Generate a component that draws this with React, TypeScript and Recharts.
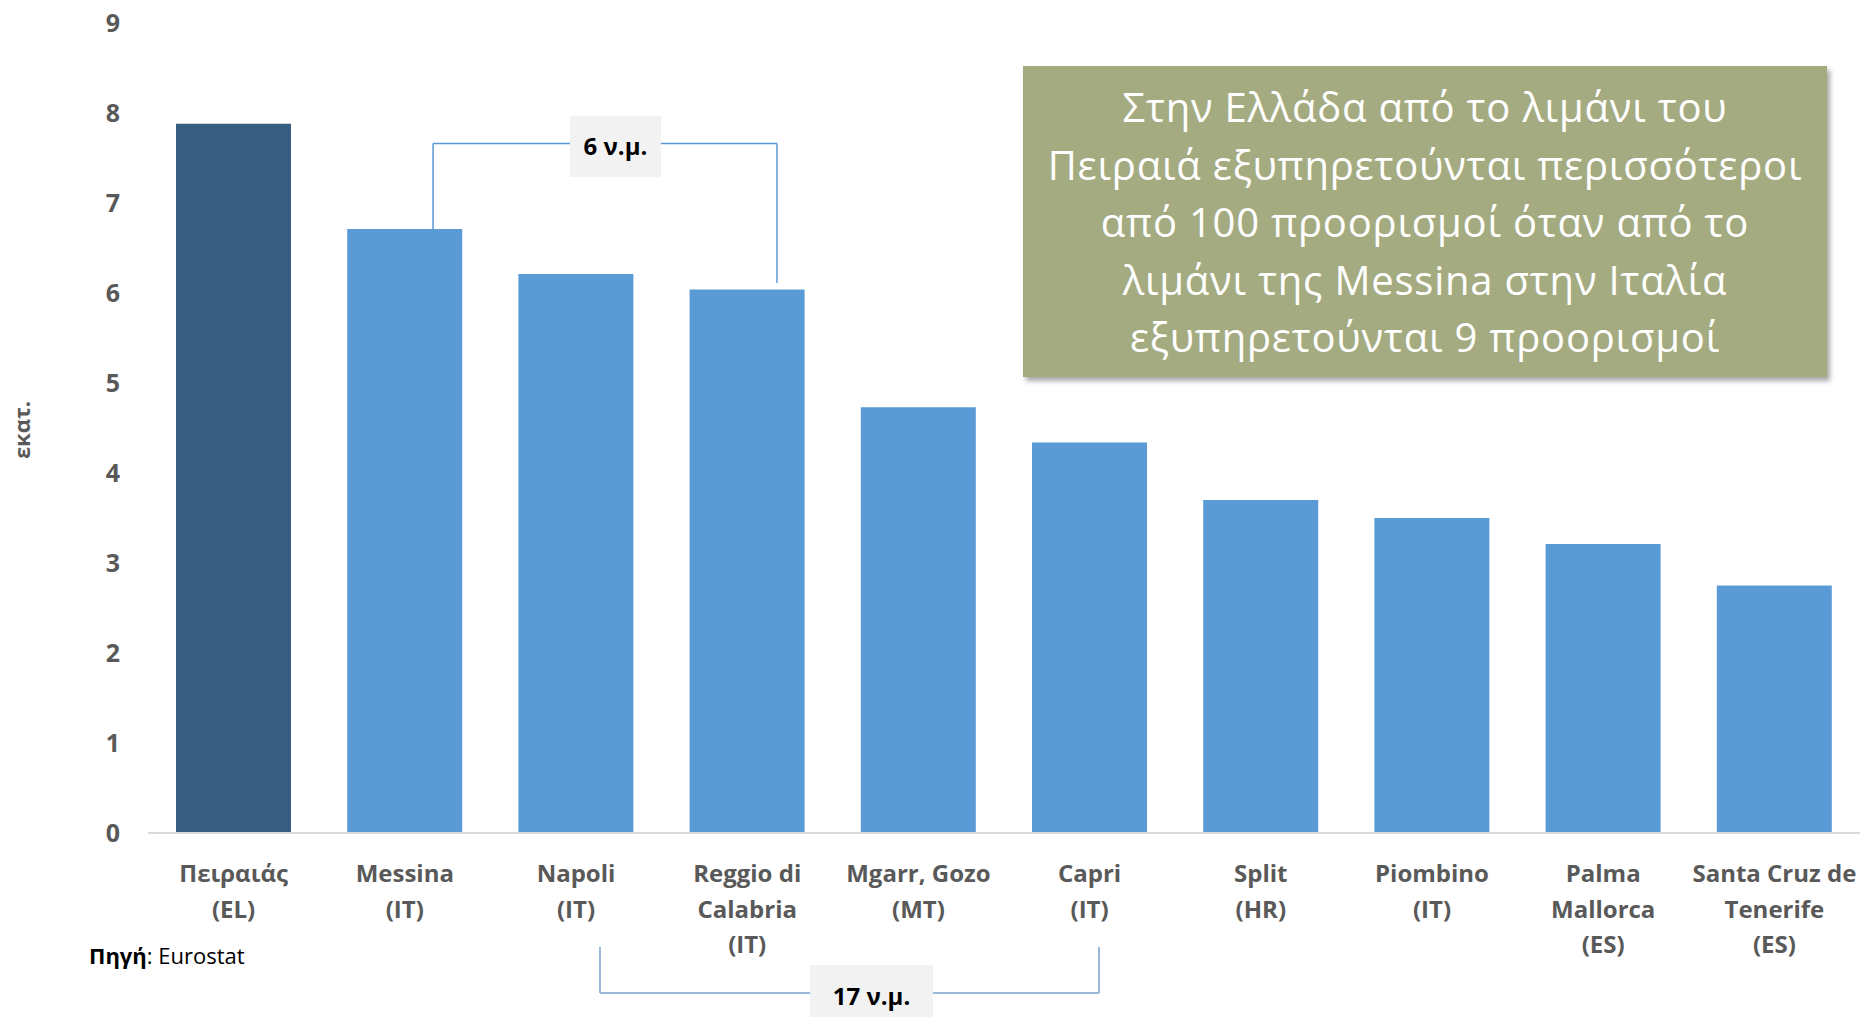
import { BarChart, Bar, XAxis, YAxis, Cell, ReferenceLine, ReferenceArea } from "recharts";

// ports (line breaks as in the original axis labels)
const ports = [
  "Πειραιάς\n(EL)",
  "Messina\n(IT)",
  "Napoli\n(IT)",
  "Reggio di\nCalabria\n(IT)",
  "Mgarr, Gozo\n(MT)",
  "Capri\n(IT)",
  "Split\n(HR)",
  "Piombino\n(IT)",
  "Palma\nMallorca\n(ES)",
  "Santa Cruz de\nTenerife\n(ES)",
];

// passengers, millions
const passengers = [7.88, 6.71, 6.21, 6.04, 4.73, 4.34, 3.7, 3.5, 3.21, 2.75];

const yTicks = [0, 1, 2, 3, 4, 5, 6, 7, 8, 9];

const noteLines = [
  "Στην Ελλάδα από το λιμάνι του",
  "Πειραιά εξυπηρετούνται περισσότεροι",
  "από 100 προορισμοί όταν από το",
  "λιμάνι της Messina στην Ιταλία",
  "εξυπηρετούνται 9 προορισμοί",
];

// distance brackets; x in category-index units (0 = centre of first bar), y in millions
const topBracket = { x1: 1.165, x2: 3.174, yTop: 7.66, yLeft: 6.71, yRight: 6.11, boxX: [1.965, 2.496], boxY: [7.29, 7.97], text: "6 ν.μ." };
const bottomBracket = { x1: 2.14, x2: 5.055, yTop: -1.267, yBottom: -1.778, boxX: [3.367, 4.085], boxY: [-1.467, -2.156], text: "17 ν.μ." };

const data = ports.map((p, i) => ({ port: p, value: passengers[i] }));

// hidden numeric axis runs 0..9 across the whole plot width (10 bands)
const NUM_MAX = 9;
const toNum = (idx: number) => ((idx + 0.5) * NUM_MAX) / ports.length;

const PortTick = (props: any) => {
  const { x, y, payload } = props;
  const lines = String(payload.value).split("\n");
  return (
    <text x={x} y={y + 47} textAnchor="middle" fill="#595959" fontSize={24} fontWeight={700} fontFamily="'Open Sans', sans-serif">
      {lines.map((l, i) => (
        <tspan key={i} x={x} dy={i === 0 ? 0 : 35.6}>
          {l}
        </tspan>
      ))}
    </text>
  );
};

const boxLabel = (text: string) => ({
  value: text,
  position: "center" as const,
  fill: "#000",
  fontSize: 24,
  fontWeight: 700,
  fontFamily: "'Open Sans', sans-serif",
});

export default function App() {
  const tb = topBracket;
  const bb = bottomBracket;
  const line = (key: string, xa: number, ya: number, xb: number, yb: number, color: string, w: number) => (
    <ReferenceLine
      key={key}
      xAxisId="num"
      ifOverflow="visible"
      stroke={color}
      strokeWidth={w}
      segment={[{ x: toNum(xa), y: ya }, { x: toNum(xb), y: yb }]}
    />
  );
  return (
    <div style={{ position: "absolute", left: 0, top: 0, width: 1863, height: 1017, background: "#fff", overflow: "hidden" }}>
      <BarChart width={1863} height={1017} data={data} margin={{ top: 23, right: 3, left: 0, bottom: 0 }}>
        <XAxis
          dataKey="port"
          height={184}
          interval={0}
          tick={<PortTick />}
          tickLine={false}
          tickSize={0}
          axisLine={{ stroke: "#d9d9d9", strokeWidth: 2 }}
        />
        <XAxis xAxisId="num" type="number" domain={[0, NUM_MAX]} hide allowDataOverflow />
        <YAxis
          width={148}
          domain={[0, 9]}
          ticks={yTicks}
          interval={0}
          axisLine={false}
          tickLine={false}
          tickSize={0}
          tickMargin={28}
          tick={{ fill: "#595959", fontSize: 25, fontWeight: 700, fontFamily: "'Open Sans', sans-serif" }}
          label={{
            content: () => (
              <text
                x={21}
                y={430}
                transform="rotate(-90 21 430)"
                textAnchor="middle"
                dominantBaseline="central"
                fill="#595959"
                fontSize={22}
                fontWeight={700}
                fontFamily="'Open Sans', sans-serif"
              >
                εκατ.
              </text>
            ),
          }}
        />
        <Bar dataKey="value" barSize={115} isAnimationActive={false}>
          {data.map((d, i) => (
            <Cell key={d.port} fill={i === 0 ? "#375e80" : "#5b9bd5"} />
          ))}
        </Bar>

        {/* 6 n.m. bracket over Messina - Reggio */}
        {line("t1", tb.x1, tb.yLeft, tb.x1, tb.yTop, "#5b9bd5", 1.5)}
        {line("t2", tb.x1, tb.yTop, tb.boxX[0], tb.yTop, "#5b9bd5", 1.5)}
        {line("t3", tb.boxX[1], tb.yTop, tb.x2, tb.yTop, "#5b9bd5", 1.5)}
        {line("t4", tb.x2, tb.yTop, tb.x2, tb.yRight, "#5b9bd5", 1.5)}
        <ReferenceArea xAxisId="num" ifOverflow="visible" x1={toNum(tb.boxX[0])} x2={toNum(tb.boxX[1])} y1={tb.boxY[0]} y2={tb.boxY[1]}
          fill="#f2f2f2" fillOpacity={1} stroke="none" label={boxLabel(tb.text)} />

        {/* 17 n.m. bracket under Napoli - Capri */}
        {line("b1", bb.x1, bb.yTop, bb.x1, bb.yBottom, "#9ab8d8", 2)}
        {line("b2", bb.x1, bb.yBottom, bb.boxX[0], bb.yBottom, "#9ab8d8", 2)}
        {line("b3", bb.boxX[1], bb.yBottom, bb.x2, bb.yBottom, "#9ab8d8", 2)}
        {line("b4", bb.x2, bb.yBottom, bb.x2, bb.yTop, "#9ab8d8", 2)}
        <ReferenceArea xAxisId="num" ifOverflow="visible" x1={toNum(bb.boxX[0])} x2={toNum(bb.boxX[1])} y1={bb.boxY[0]} y2={bb.boxY[1]}
          fill="#f2f2f2" fillOpacity={1} stroke="none" label={boxLabel(bb.text)} />
      </BarChart>

      <div
        style={{
          position: "absolute",
          left: 1023,
          top: 66,
          width: 804,
          height: 311,
          boxSizing: "border-box",
          paddingTop: 12,
          background: "#a5ab81",
          boxShadow: "3px 4px 5px rgba(0,0,0,0.35)",
          color: "#fff",
          fontFamily: "'Open Sans', sans-serif",
          fontSize: 40,
          lineHeight: "57.5px",
          letterSpacing: 0.8,
          textAlign: "center",
        }}
      >
        {noteLines.map((l) => (
          <div key={l}>{l}</div>
        ))}
      </div>

      <div
        style={{
          position: "absolute",
          left: 89,
          top: 941,
          fontFamily: "'Open Sans', sans-serif",
          fontSize: 22,
          lineHeight: "28px",
          color: "#000",
        }}
      >
        <b>Πηγή</b>: Eurostat
      </div>
    </div>
  );
}
